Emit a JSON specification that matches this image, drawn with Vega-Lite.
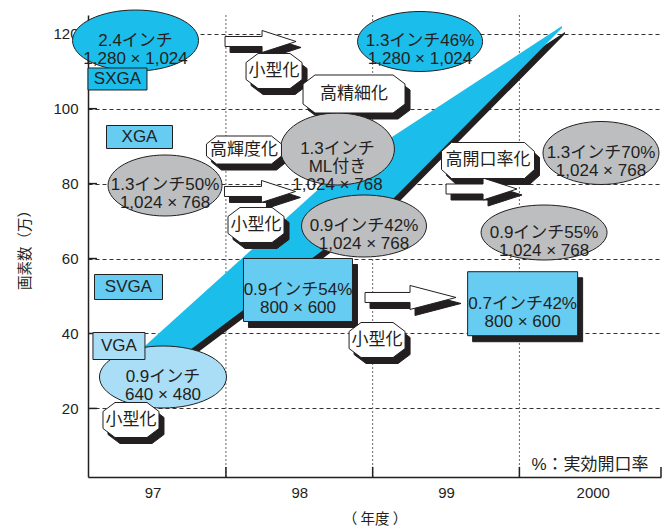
{
  "$schema": "https://vega.github.io/schema/vega-lite/v6.json",
  "width": 573,
  "height": 462,
  "autosize": {"type": "none"},
  "padding": {"left": 88, "top": 15, "right": 3, "bottom": 54},
  "background": "white",
  "config": {
    "view": {"stroke": null},
    "font": "Liberation Sans, Noto Sans CJK JP",
    "style": {"guide-title": {"fontSize": 14.5, "fontWeight": "normal", "font": "Noto Sans CJK JP", "fill": "#231F20"}, "guide-label": {"fontSize": 15, "font": "Liberation Sans", "fill": "#231F20"}},
    "axis": {"titleFont": "Noto Sans CJK JP", "titleFontSize": 14.5, "titleFontWeight": "normal", "titleColor": "#231F20", "labelFont": "Liberation Sans", "labelFontSize": 15, "labelColor": "#231F20", "domainColor": "#231F20", "domainWidth": 1.5, "ticks": false},
    "axisX": {"grid": false, "labelPadding": 8, "titlePadding": 12},
    "axisY": {"gridColor": "#333333", "gridDash": [4, 3], "gridWidth": 1, "labelPadding": 10, "titlePadding": 20}
  },
  "datasets": {
    "vgrid": [{"x": 97.5}, {"x": 98.5}, {"x": 99.5}],
    "xstub": [{"x": 97.5}, {"x": 98.5}, {"x": 99.5}, {"x": 100.465}],
    "ystub": [{"y": 20}, {"y": 40}, {"y": 60}, {"y": 80}, {"y": 100}, {"y": 120}],
    "band": [
      {"x": 96.948, "hi": 36.66, "lo": 26.52},
      {"x": 97.255, "hi": 47.52, "lo": 35.59},
      {"x": 98.162, "hi": 79.63, "lo": 62.28},
      {"x": 98.652, "hi": 92.97, "lo": 76.43},
      {"x": 99.79, "hi": 122.06, "lo": 121.53}
    ],
    "arrows": [
      {"id": "a1", "x": 97.736, "y": 117.93},
      {"id": "a2", "x": 97.732, "y": 77.9},
      {"id": "a3", "x": 98.758, "y": 49.61},
      {"id": "a4", "x": 99.242, "y": 78.56}
    ],
    "nodes": [
      {"label": "2.4インチ\n1,280 × 1,024", "x": 96.884, "y": 118.19, "cat": "1,280×1,024"},
      {"label": "1.3インチ46%\n1,280 × 1,024", "x": 98.823, "y": 117.93, "cat": "1,280×1,024"},
      {"label": "1.3インチ\nML付き\n1,024 × 768", "x": 98.26, "y": 89.24, "cat": "1,024×768"},
      {"label": "1.3インチ50%\n1,024 × 768", "x": 97.085, "y": 79.5, "cat": "1,024×768"},
      {"label": "1.3インチ70%\n1,024 × 768", "x": 100.056, "y": 88.17, "cat": "1,024×768"},
      {"label": "0.9インチ42%\n1,024 × 768", "x": 98.441, "y": 68.69, "cat": "1,024×768"},
      {"label": "0.9インチ55%\n1,024 × 768", "x": 99.668, "y": 66.95, "cat": "1,024×768"},
      {"label": "0.9インチ\n640 × 480", "x": 97.071, "y": 28.39, "cat": "640×480"},
      {"label": "0.9インチ54%\n800 × 600", "x": 97.991, "y": 51.61, "cat": "800×600"},
      {"label": "0.7インチ42%\n800 × 600", "x": 99.522, "y": 47.95, "cat": "800×600"},
      {"label": "SXGA", "x": 96.761, "y": 107.92, "cat": "SXGA"},
      {"label": "XGA", "x": 96.911, "y": 92.44, "cat": "XGA"},
      {"label": "SVGA", "x": 96.836, "y": 52.41, "cat": "SVGA"},
      {"label": "VGA", "x": 96.771, "y": 36.66, "cat": "VGA"},
      {"label": "小型化", "x": 97.828, "y": 110.05, "cat": "技術"},
      {"label": "高精細化", "x": 98.373, "y": 103.92, "cat": "技術"},
      {"label": "高輝度化", "x": 97.623, "y": 88.97, "cat": "技術"},
      {"label": "小型化", "x": 97.705, "y": 68.96, "cat": "技術"},
      {"label": "小型化", "x": 98.53, "y": 38.26, "cat": "技術"},
      {"label": "小型化", "x": 96.853, "y": 16.91, "cat": "技術"},
      {"label": "高開口率化", "x": 99.286, "y": 86.17, "cat": "技術"}
    ]
  },
  "resolve": {"scale": {"shape": "independent"}},
  "layer": [
    {
      "data": {"name": "vgrid"},
      "mark": {"type": "rule", "stroke": "#666666", "strokeWidth": 1, "strokeDash": [2, 2]},
      "encoding": {
        "x": {
          "field": "x", "type": "quantitative",
          "scale": {"domain": [96.56, 100.465], "nice": false, "zero": false},
          "title": "（ 年度 ）",
          "axis": {"values": [97, 98, 99, 100], "format": "d", "labelExpr": "datum.value == 100 ? '2000' : datum.label", "grid": false, "labelFlush": false, "labelOverlap": false, "titleFontSize": 14.5, "titleFontWeight": "normal", "labelFontSize": 15}
        }
      }
    },
    {
      "data": {"name": "ystub"},
      "mark": {"type": "rule", "stroke": "#231F20", "strokeWidth": 1.5},
      "encoding": {
        "y": {
          "field": "y", "type": "quantitative",
          "scale": {"domain": [1.7, 125], "nice": false, "zero": false},
          "title": "画素数（万）",
          "axis": {"values": [20, 40, 60, 80, 100, 120], "grid": true, "titleFontSize": 14.5, "titleFontWeight": "normal", "labelFontSize": 15}
        },
        "x": {"datum": 96.56, "type": "quantitative", "scale": {"domain": [96.56, 100.465], "nice": false, "zero": false}, "title": "（ 年度 ）"},
        "x2": {"datum": 96.621}
      }
    },
    {
      "data": {"name": "xstub"},
      "mark": {"type": "rule", "stroke": "#231F20", "strokeWidth": 1.5},
      "encoding": {
        "x": {"field": "x", "type": "quantitative", "scale": {"domain": [96.56, 100.465], "nice": false, "zero": false}, "title": "（ 年度 ）"},
        "y": {"datum": 1.7, "type": "quantitative", "scale": {"domain": [1.7, 125], "nice": false, "zero": false}, "title": "画素数（万）"},
        "y2": {"datum": 4.4}
      }
    },
    {
      "data": {"name": "band"},
      "mark": {"type": "area", "color": "#231F20", "opacity": 1, "xOffset": 3, "yOffset": 6, "y2Offset": 6},
      "encoding": {
        "x": {"field": "x", "type": "quantitative", "scale": {"domain": [96.56, 100.465], "nice": false, "zero": false}, "title": "（ 年度 ）"},
        "y": {"field": "hi", "type": "quantitative", "scale": {"domain": [1.7, 125], "nice": false, "zero": false}, "title": "画素数（万）"},
        "y2": {"field": "lo"}
      }
    },
    {
      "data": {"name": "band"},
      "mark": {"type": "area", "color": "#1BBDEB", "opacity": 1},
      "encoding": {
        "x": {"field": "x", "type": "quantitative", "scale": {"domain": [96.56, 100.465], "nice": false, "zero": false}, "title": "（ 年度 ）"},
        "y": {"field": "hi", "type": "quantitative", "scale": {"domain": [1.7, 125], "nice": false, "zero": false}, "title": "画素数（万）"},
        "y2": {"field": "lo"}
      }
    },
    {
      "data": {"name": "nodes"},
      "transform": [{"filter": "datum.cat === '技術' || datum.cat === '800×600'"}],
      "mark": {"type": "point", "filled": true, "fill": "#231F20", "stroke": "#231F20", "strokeWidth": 1, "opacity": 1, "size": 10000, "xOffset": 5, "yOffset": 6},
      "encoding": {
        "x": {"field": "x", "type": "quantitative", "scale": {"domain": [96.56, 100.465], "nice": false, "zero": false}, "title": "（ 年度 ）"},
        "y": {"field": "y", "type": "quantitative", "scale": {"domain": [1.7, 125], "nice": false, "zero": false}, "title": "画素数（万）"},
        "shape": {
          "field": "label", "type": "nominal", "legend": null,
          "scale": {
            "domain": ["2.4インチ\n1,280 × 1,024", "1.3インチ46%\n1,280 × 1,024", "1.3インチ\nML付き\n1,024 × 768", "1.3インチ50%\n1,024 × 768", "1.3インチ70%\n1,024 × 768", "0.9インチ42%\n1,024 × 768", "0.9インチ55%\n1,024 × 768", "0.9インチ\n640 × 480", "0.9インチ54%\n800 × 600", "0.7インチ42%\n800 × 600", "SXGA", "XGA", "SVGA", "VGA", "小型化", "高精細化", "高輝度化", "高開口率化"],
            "range": [
              "M1.26,0C1.26,0.337,0.696,0.61,0,0.61C-0.696,0.61,-1.26,0.337,-1.26,0C-1.26,-0.337,-0.696,-0.61,0,-0.61C0.696,-0.61,1.26,-0.337,1.26,0Z",
              "M1.25,0C1.25,0.331,0.69,0.6,0,0.6C-0.69,0.6,-1.25,0.331,-1.25,0C-1.25,-0.331,-0.69,-0.6,0,-0.6C0.69,-0.6,1.25,-0.331,1.25,0Z",
              "M1.14,0C1.14,0.398,0.63,0.72,0,0.72C-0.63,0.72,-1.14,0.398,-1.14,0C-1.14,-0.398,-0.63,-0.72,0,-0.72C0.63,-0.72,1.14,-0.398,1.14,0Z",
              "M1.14,0C1.14,0.337,0.63,0.61,0,0.61C-0.63,0.61,-1.14,0.337,-1.14,0C-1.14,-0.337,-0.63,-0.61,0,-0.61C0.63,-0.61,1.14,-0.337,1.14,0Z",
              "M1.16,0C1.16,0.348,0.641,0.63,0,0.63C-0.641,0.63,-1.16,0.348,-1.16,0C-1.16,-0.348,-0.641,-0.63,0,-0.63C0.641,-0.63,1.16,-0.348,1.16,0Z",
              "M1.25,0C1.25,0.342,0.69,0.62,0,0.62C-0.69,0.62,-1.25,0.342,-1.25,0C-1.25,-0.342,-0.69,-0.62,0,-0.62C0.69,-0.62,1.25,-0.342,1.25,0Z",
              "M1.26,0C1.26,0.304,0.696,0.55,0,0.55C-0.696,0.55,-1.26,0.304,-1.26,0C-1.26,-0.304,-0.696,-0.55,0,-0.55C0.696,-0.55,1.26,-0.304,1.26,0Z",
              "M1.27,0C1.27,0.342,0.701,0.62,0,0.62C-0.701,0.62,-1.27,0.342,-1.27,0C-1.27,-0.342,-0.701,-0.62,0,-0.62C0.701,-0.62,1.27,-0.342,1.27,0Z",
              "M-1.09,-0.63L1.09,-0.63L1.09,0.63L-1.09,0.63Z",
              "M-1.1,-0.64L1.1,-0.64L1.1,0.64L-1.1,0.64Z",
              "M-0.59,-0.22L0.59,-0.22L0.59,0.22L-0.59,0.22Z",
              "M-0.66,-0.23L0.66,-0.23L0.66,0.23L-0.66,0.23Z",
              "M-0.68,-0.25L0.68,-0.25L0.68,0.25L-0.68,0.25Z",
              "M-0.52,-0.27L0.52,-0.27L0.52,0.27L-0.52,0.27Z",
              "M-0.32,-0.35L0.32,-0.35L0.56,-0.17L0.56,0.17L0.32,0.35L-0.32,0.35L-0.56,0.17L-0.56,-0.17Z",
              "M-0.78,-0.38L0.78,-0.38L1.02,-0.2L1.02,0.2L0.78,0.38L-0.78,0.38L-1.02,0.2L-1.02,-0.2Z",
              "M-0.55,-0.28L0.55,-0.28L0.75,-0.12L0.75,0.12L0.55,0.28L-0.55,0.28L-0.75,0.12L-0.75,-0.12Z",
              "M-0.73,-0.36L0.73,-0.36L0.93,-0.18L0.93,0.18L0.73,0.36L-0.73,0.36L-0.93,0.18L-0.93,-0.18Z"
            ]
          }
        }
      }
    },
    {
      "data": {"name": "arrows"},
      "mark": {"type": "point", "filled": true, "fill": "#231F20", "stroke": "#231F20", "strokeWidth": 1, "opacity": 1, "size": 10000, "xOffset": 5, "yOffset": 6},
      "encoding": {
        "x": {"field": "x", "type": "quantitative", "scale": {"domain": [96.56, 100.465], "nice": false, "zero": false}, "title": "（ 年度 ）"},
        "y": {"field": "y", "type": "quantitative", "scale": {"domain": [1.7, 125], "nice": false, "zero": false}, "title": "画素数（万）"},
        "shape": {
          "field": "id", "type": "nominal", "legend": null,
          "scale": {
            "domain": ["a1", "a2", "a3", "a4"],
            "range": [
              "M-0.71,-0.1L0.03,-0.1L0.03,-0.22L0.71,0L0.03,0.22L0.03,0.1L-0.71,0.1Z",
              "M-0.71,-0.1L0.03,-0.1L0.03,-0.22L0.71,0L0.03,0.22L0.03,0.1L-0.71,0.1Z",
              "M-0.91,-0.1L-0.01,-0.1L-0.01,-0.24L0.91,0L-0.01,0.24L-0.01,0.1L-0.91,0.1Z",
              "M-0.71,-0.1L0.03,-0.1L0.03,-0.22L0.71,0L0.03,0.22L0.03,0.1L-0.71,0.1Z"
            ]
          }
        }
      }
    },
    {
      "data": {"name": "arrows"},
      "mark": {"type": "point", "filled": true, "fill": "#FFFFFF", "stroke": "#231F20", "strokeWidth": 1, "opacity": 1, "size": 10000},
      "encoding": {
        "x": {"field": "x", "type": "quantitative", "scale": {"domain": [96.56, 100.465], "nice": false, "zero": false}, "title": "（ 年度 ）"},
        "y": {"field": "y", "type": "quantitative", "scale": {"domain": [1.7, 125], "nice": false, "zero": false}, "title": "画素数（万）"},
        "shape": {
          "field": "id", "type": "nominal", "legend": null,
          "scale": {
            "domain": ["a1", "a2", "a3", "a4"],
            "range": [
              "M-0.71,-0.1L0.03,-0.1L0.03,-0.22L0.71,0L0.03,0.22L0.03,0.1L-0.71,0.1Z",
              "M-0.71,-0.1L0.03,-0.1L0.03,-0.22L0.71,0L0.03,0.22L0.03,0.1L-0.71,0.1Z",
              "M-0.91,-0.1L-0.01,-0.1L-0.01,-0.24L0.91,0L-0.01,0.24L-0.01,0.1L-0.91,0.1Z",
              "M-0.71,-0.1L0.03,-0.1L0.03,-0.22L0.71,0L0.03,0.22L0.03,0.1L-0.71,0.1Z"
            ]
          }
        }
      }
    },
    {
      "data": {"name": "nodes"},
      "mark": {"type": "point", "filled": true, "stroke": "#231F20", "strokeWidth": 1, "opacity": 1, "size": 10000},
      "encoding": {
        "x": {"field": "x", "type": "quantitative", "scale": {"domain": [96.56, 100.465], "nice": false, "zero": false}, "title": "（ 年度 ）"},
        "y": {"field": "y", "type": "quantitative", "scale": {"domain": [1.7, 125], "nice": false, "zero": false}, "title": "画素数（万）"},
        "fill": {
          "field": "cat", "type": "nominal", "legend": null,
          "scale": {
            "domain": ["1,280×1,024", "1,024×768", "640×480", "800×600", "SXGA", "XGA", "SVGA", "VGA", "技術"],
            "range": ["#1BBDEB", "#BCBEC0", "#A9DEF6", "#66CCF2", "#1BBDEB", "#66CCF2", "#66CCF2", "#A9DEF6", "#FFFFFF"]
          }
        },
        "shape": {
          "field": "label", "type": "nominal", "legend": null,
          "scale": {
            "domain": ["2.4インチ\n1,280 × 1,024", "1.3インチ46%\n1,280 × 1,024", "1.3インチ\nML付き\n1,024 × 768", "1.3インチ50%\n1,024 × 768", "1.3インチ70%\n1,024 × 768", "0.9インチ42%\n1,024 × 768", "0.9インチ55%\n1,024 × 768", "0.9インチ\n640 × 480", "0.9インチ54%\n800 × 600", "0.7インチ42%\n800 × 600", "SXGA", "XGA", "SVGA", "VGA", "小型化", "高精細化", "高輝度化", "高開口率化"],
            "range": [
              "M1.26,0C1.26,0.337,0.696,0.61,0,0.61C-0.696,0.61,-1.26,0.337,-1.26,0C-1.26,-0.337,-0.696,-0.61,0,-0.61C0.696,-0.61,1.26,-0.337,1.26,0Z",
              "M1.25,0C1.25,0.331,0.69,0.6,0,0.6C-0.69,0.6,-1.25,0.331,-1.25,0C-1.25,-0.331,-0.69,-0.6,0,-0.6C0.69,-0.6,1.25,-0.331,1.25,0Z",
              "M1.14,0C1.14,0.398,0.63,0.72,0,0.72C-0.63,0.72,-1.14,0.398,-1.14,0C-1.14,-0.398,-0.63,-0.72,0,-0.72C0.63,-0.72,1.14,-0.398,1.14,0Z",
              "M1.14,0C1.14,0.337,0.63,0.61,0,0.61C-0.63,0.61,-1.14,0.337,-1.14,0C-1.14,-0.337,-0.63,-0.61,0,-0.61C0.63,-0.61,1.14,-0.337,1.14,0Z",
              "M1.16,0C1.16,0.348,0.641,0.63,0,0.63C-0.641,0.63,-1.16,0.348,-1.16,0C-1.16,-0.348,-0.641,-0.63,0,-0.63C0.641,-0.63,1.16,-0.348,1.16,0Z",
              "M1.25,0C1.25,0.342,0.69,0.62,0,0.62C-0.69,0.62,-1.25,0.342,-1.25,0C-1.25,-0.342,-0.69,-0.62,0,-0.62C0.69,-0.62,1.25,-0.342,1.25,0Z",
              "M1.26,0C1.26,0.304,0.696,0.55,0,0.55C-0.696,0.55,-1.26,0.304,-1.26,0C-1.26,-0.304,-0.696,-0.55,0,-0.55C0.696,-0.55,1.26,-0.304,1.26,0Z",
              "M1.27,0C1.27,0.342,0.701,0.62,0,0.62C-0.701,0.62,-1.27,0.342,-1.27,0C-1.27,-0.342,-0.701,-0.62,0,-0.62C0.701,-0.62,1.27,-0.342,1.27,0Z",
              "M-1.09,-0.63L1.09,-0.63L1.09,0.63L-1.09,0.63Z",
              "M-1.1,-0.64L1.1,-0.64L1.1,0.64L-1.1,0.64Z",
              "M-0.59,-0.22L0.59,-0.22L0.59,0.22L-0.59,0.22Z",
              "M-0.66,-0.23L0.66,-0.23L0.66,0.23L-0.66,0.23Z",
              "M-0.68,-0.25L0.68,-0.25L0.68,0.25L-0.68,0.25Z",
              "M-0.52,-0.27L0.52,-0.27L0.52,0.27L-0.52,0.27Z",
              "M-0.32,-0.35L0.32,-0.35L0.56,-0.17L0.56,0.17L0.32,0.35L-0.32,0.35L-0.56,0.17L-0.56,-0.17Z",
              "M-0.78,-0.38L0.78,-0.38L1.02,-0.2L1.02,0.2L0.78,0.38L-0.78,0.38L-1.02,0.2L-1.02,-0.2Z",
              "M-0.55,-0.28L0.55,-0.28L0.75,-0.12L0.75,0.12L0.55,0.28L-0.55,0.28L-0.75,0.12L-0.75,-0.12Z",
              "M-0.73,-0.36L0.73,-0.36L0.93,-0.18L0.93,0.18L0.73,0.36L-0.73,0.36L-0.93,0.18L-0.93,-0.18Z"
            ]
          }
        }
      }
    },
    {
      "data": {"name": "nodes"},
      "mark": {"type": "text", "align": "center", "baseline": "middle", "fontSize": 17, "lineHeight": 18, "lineBreak": "\n", "color": "#231F20", "font": "Liberation Sans, Noto Sans CJK JP"},
      "encoding": {
        "x": {"field": "x", "type": "quantitative", "scale": {"domain": [96.56, 100.465], "nice": false, "zero": false}, "title": "（ 年度 ）"},
        "y": {"field": "y", "type": "quantitative", "scale": {"domain": [1.7, 125], "nice": false, "zero": false}, "title": "画素数（万）"},
        "text": {"field": "label", "type": "nominal"}
      }
    },
    {
      "data": {"values": [{"note": "%：実効開口率", "x": 99.981, "y": 4.9}]},
      "mark": {"type": "text", "align": "center", "baseline": "middle", "fontSize": 17, "color": "#231F20", "font": "Liberation Sans, Noto Sans CJK JP"},
      "encoding": {
        "x": {"field": "x", "type": "quantitative", "scale": {"domain": [96.56, 100.465], "nice": false, "zero": false}, "title": "（ 年度 ）"},
        "y": {"field": "y", "type": "quantitative", "scale": {"domain": [1.7, 125], "nice": false, "zero": false}, "title": "画素数（万）"},
        "text": {"field": "note", "type": "nominal"}
      }
    }
  ]
}
